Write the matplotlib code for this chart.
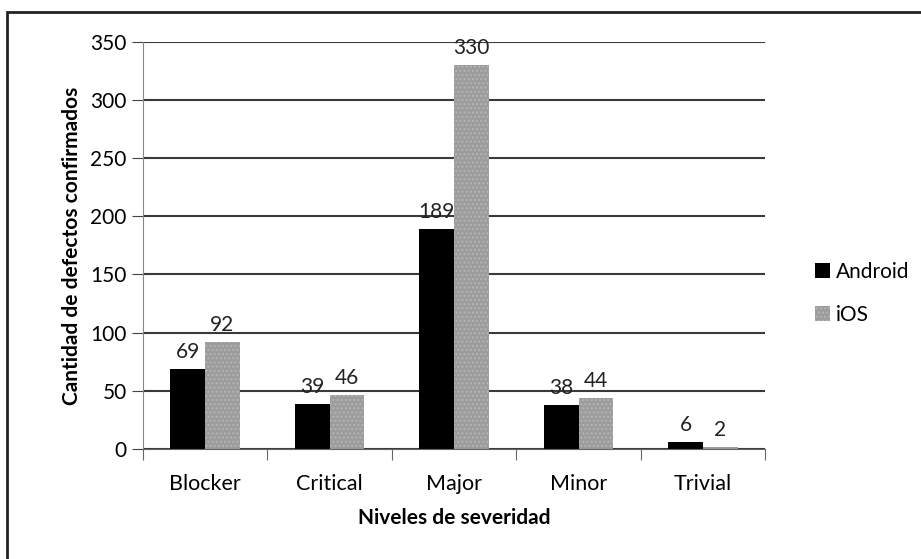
import numpy as np
import matplotlib.pyplot as plt
from matplotlib.patches import Rectangle

plt.rcParams['font.family'] = ['Liberation Sans Narrow', 'Lato', 'DejaVu Sans']

niveles = ['Blocker', 'Critical', 'Major', 'Minor', 'Trivial']
android = [69, 39, 189, 38, 6]
ios = [92, 46, 330, 44, 2]

fig = plt.figure(figsize=(9.21, 5.59), dpi=100)
ax = fig.add_axes([0.155, 0.197, 0.676, 0.728])

x = np.arange(len(niveles))
w = 0.28
b1 = ax.bar(x - w / 2, android, width=w, color='black', label='Android')
b2 = ax.bar(x + w / 2, ios, width=w, color='#9c9c9c', edgecolor='#b5b5b5',
            hatch='....', linewidth=0, label='iOS')

for bars, vals in ((b1, android), (b2, ios)):
    for r, v in zip(bars, vals):
        ax.text(r.get_x() + r.get_width() / 2, v + 6, str(v),
                ha='center', va='bottom', fontsize=15, color='#222222')

ax.set_xlim(-0.5, 4.5)
ax.set_ylim(0, 350)
ax.set_yticks(range(0, 351, 50))
ax.yaxis.grid(True, color='#3a3a3a', linewidth=1.5)
ax.set_axisbelow(True)

# ticks at category boundaries, labels centered
ax.set_xticks(np.arange(-0.5, 4.6, 1))
ax.set_xticklabels([])
ax.set_xticks(x, minor=True)
ax.set_xticklabels(niveles, minor=True, fontsize=15.5)
ax.tick_params(axis='x', which='minor', length=0, pad=18)
ax.tick_params(axis='x', which='major', direction='out', length=8, color='#666666')
ax.tick_params(axis='y', direction='out', length=8, color='#444444', labelsize=15)

for s in ['top', 'right']:
    ax.spines[s].set_visible(False)
ax.spines['left'].set_color('#888888')
ax.spines['bottom'].set_color('#666666')

ax.set_xlabel('Niveles de severidad', fontsize=15, fontweight='bold', labelpad=10)
ax.set_ylabel('Cantidad de defectos confirmados', fontsize=15, fontweight='bold', labelpad=6)

fig.legend(handles=[b1, b2], loc='upper left', bbox_to_anchor=(0.865, 0.565),
           frameon=False, fontsize=15, handlelength=0.7, handleheight=0.7,
           handletextpad=0.3, labelspacing=1.1)

fig.patches.append(Rectangle((0.008, -0.1), 1.1, 1.078, transform=fig.transFigure,
                             fill=False, edgecolor='#222222', linewidth=2))

fig.savefig('out.png', dpi=100)
